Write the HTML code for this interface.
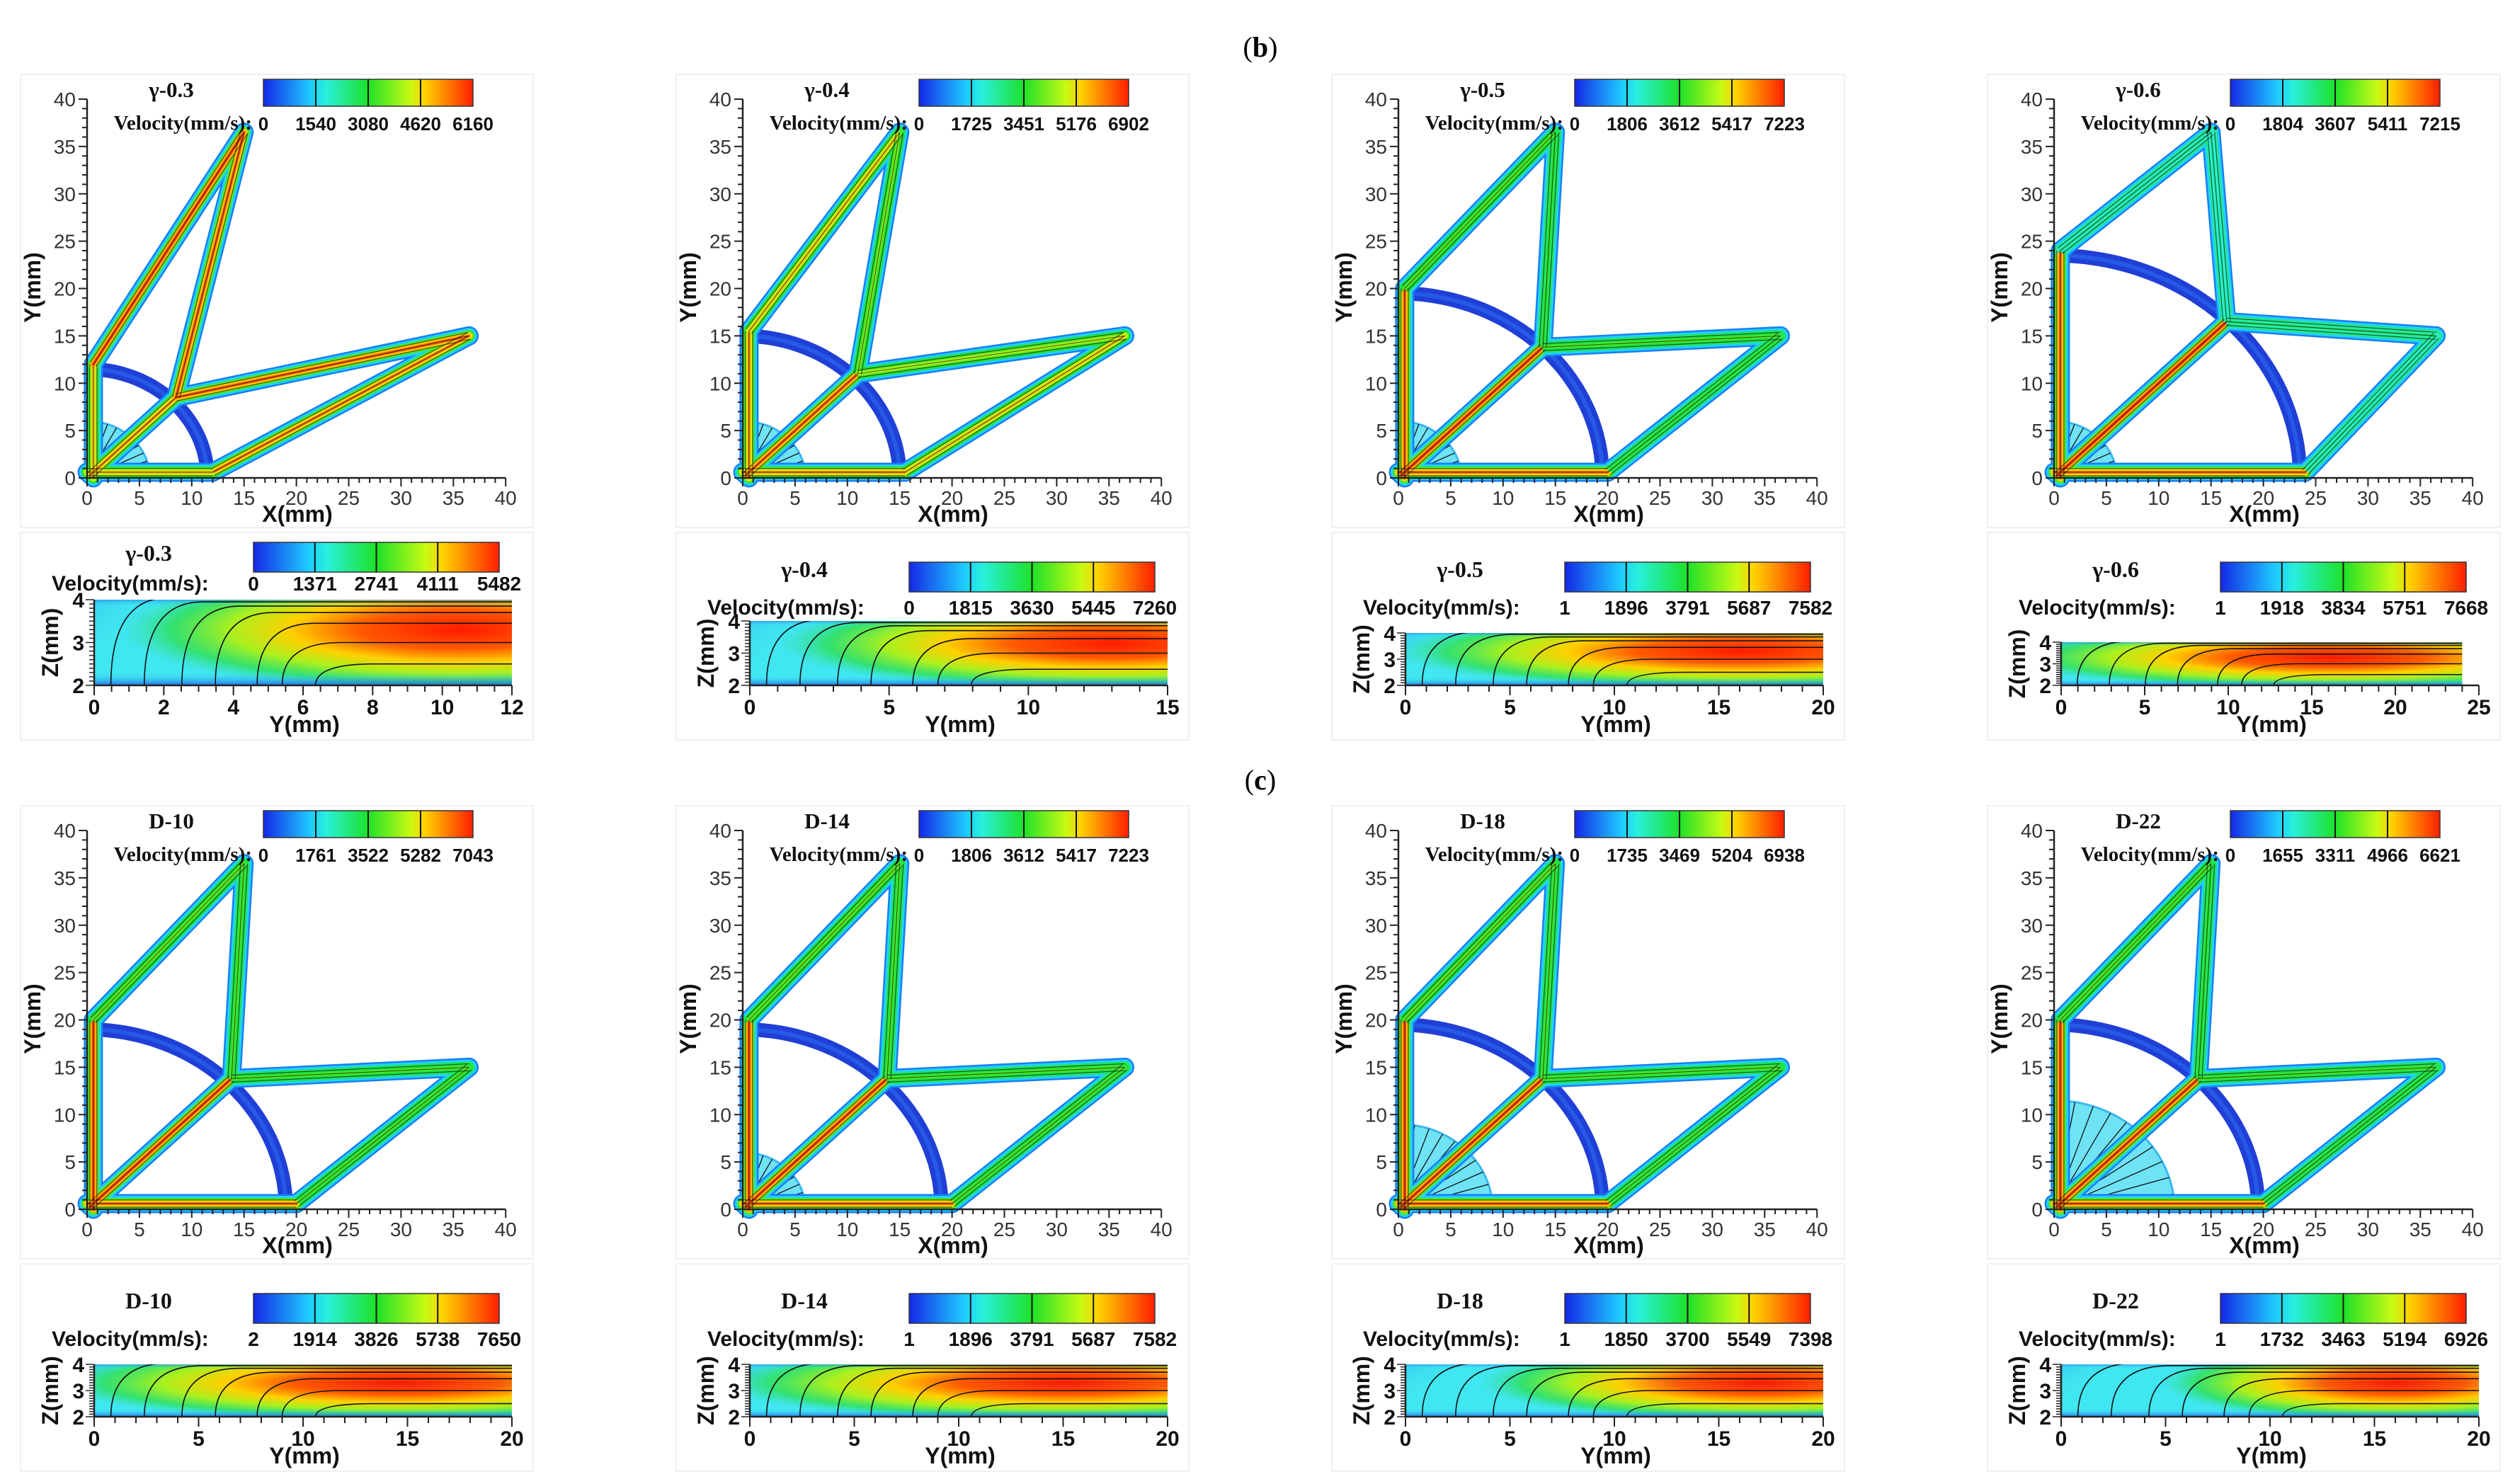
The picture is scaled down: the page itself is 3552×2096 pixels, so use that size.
<!DOCTYPE html>
<html><head><meta charset="utf-8"><style>
html,body{margin:0;padding:0;background:#fff;}
svg{display:block;}
</style></head><body>
<svg id="fig" width="3552" height="2096" viewBox="0 0 3552 2096" xmlns="http://www.w3.org/2000/svg">
<defs>
<linearGradient id="cbgrad" x1="0" x2="1" y1="0" y2="0">
<stop offset="0" stop-color="#1428e6"/><stop offset="0.22" stop-color="#1ec8ff"/><stop offset="0.3" stop-color="#28f0dc"/><stop offset="0.5" stop-color="#1ee128"/><stop offset="0.7" stop-color="#c8fa14"/><stop offset="0.77" stop-color="#ffd200"/><stop offset="1" stop-color="#ff1e00"/>
</linearGradient>
<radialGradient id="hot" cx="0.5" cy="0.5" r="0.5">
<stop offset="0" stop-color="#ff1a00"/><stop offset="0.3" stop-color="#ff5a00"/><stop offset="0.5" stop-color="#ffd000"/><stop offset="0.68" stop-color="#a8f020"/><stop offset="0.85" stop-color="#30e050" stop-opacity="0.8"/><stop offset="1" stop-color="#30e0a0" stop-opacity="0"/>
</radialGradient>
<radialGradient id="cold" cx="0" cy="0" r="1">
<stop offset="0" stop-color="#0a30e0"/><stop offset="0.5" stop-color="#1e90f5" stop-opacity="0.7"/><stop offset="1" stop-color="#40e6f0" stop-opacity="0"/>
</radialGradient>
<linearGradient id="bot" x1="0" x2="0" y1="0" y2="1">
<stop offset="0" stop-color="#1e6cf0" stop-opacity="0.5"/><stop offset="0.08" stop-color="#40e6f0" stop-opacity="0"/><stop offset="0.85" stop-color="#40e6f0" stop-opacity="0"/><stop offset="1" stop-color="#1e50e8" stop-opacity="0.8"/>
</linearGradient>
</defs>
<text x="1780" y="80" text-anchor="middle" font-family="Liberation Serif, serif" font-size="40">(<tspan font-weight="bold">b</tspan>)</text>
<text x="1780" y="1115" text-anchor="middle" font-family="Liberation Serif, serif" font-size="40">(<tspan font-weight="bold">c</tspan>)</text>
</svg>
<script>
const topTitles = ["γ-0.3","γ-0.4","γ-0.5","γ-0.6","D-10","D-14","D-18","D-22"];
const topCbVals = [[0,1540,3080,4620,6160],[0,1725,3451,5176,6902],[0,1806,3612,5417,7223],[0,1804,3607,5411,7215],[0,1761,3522,5282,7043],[0,1806,3612,5417,7223],[0,1735,3469,5204,6938],[0,1655,3311,4966,6621]];
const lowTitles = ["γ-0.3","γ-0.4","γ-0.5","γ-0.6","D-10","D-14","D-18","D-22"];
const lowCbVals = [[0,1371,2741,4111,5482],[0,1815,3630,5445,7260],[1,1896,3791,5687,7582],[1,1918,3834,5751,7668],[2,1914,3826,5738,7650],[1,1896,3791,5687,7582],[1,1850,3700,5549,7398],[1,1732,3463,5194,6926]];
const lowAxisMax = [12,15,20,25,20,20,20,20];
const lowTickStep = [2,5,5,5,5,5,5,5];
const lowChannelLen = [12,15,20,24,20,20,20,20];
const strutH = [12,15.5,20,24,20,20,20,20];
const nodeXY = [8.5,11,13.8,16.5,13.8,13.8,13.8,13.8];
const arcR = [11.5,15,19.5,23.5,19,19,19.5,19.5];
const inletR = [6,6,6,6,3,6,9,11.5];
// speeds (0-1) for struts: leftVert, upperOuter, tipToNode, diagonal, nodeToRight, rightToBottom, bottom
const strutSpeed = [
 [0.8,0.95,0.92,0.85,0.92,0.88,0.8],
 [0.85,0.78,0.62,0.92,0.68,0.78,0.85],
 [0.92,0.58,0.52,0.96,0.56,0.52,0.9],
 [0.92,0.38,0.36,0.97,0.42,0.38,0.9],
 [0.95,0.6,0.56,0.95,0.56,0.56,0.9],
 [0.95,0.6,0.56,0.95,0.56,0.56,0.9],
 [0.95,0.6,0.55,0.95,0.56,0.55,0.92],
 [0.95,0.58,0.52,0.95,0.55,0.52,0.92]
];
const hotCenter = [10.5,13,16,16,14.5,15,17,16];
const hotSpread = [6.5,8,11,13,11,11,9,7.5];

const NS="http://www.w3.org/2000/svg";
const svg=document.getElementById('fig');
function el(tag,attrs,parent){const e=document.createElementNS(NS,tag);for(const k in attrs)e.setAttribute(k,attrs[k]);(parent||svg).appendChild(e);return e;}
function txt(s,attrs,parent){const e=el('text',attrs,parent);e.textContent=s;return e;}
const cmStops=[[0,[20,40,230]],[0.22,[30,200,255]],[0.3,[40,240,220]],[0.5,[30,225,40]],[0.7,[200,250,20]],[0.77,[255,210,0]],[1,[255,30,0]]];
function cmap(t){t=Math.max(0,Math.min(1,t));for(let i=1;i<cmStops.length;i++){if(t<=cmStops[i][0]){const a=cmStops[i-1],b=cmStops[i];const f=(t-a[0])/(b[0]-a[0]);const c=a[1].map((v,j)=>Math.round(v+(b[1][j]-v)*f));return `rgb(${c[0]},${c[1]},${c[2]})`;}}return 'rgb(255,30,0)';}
const SANS="Liberation Sans, sans-serif", SERIF="Liberation Serif, serif";

function colorbar(g,x,y,w,h,vals,fs,ly){
  const cb=el('rect',{x:x,y:y,width:w,height:h,fill:'url(#cbgrad)',stroke:'#333','stroke-width':1.5},g);
  
  
  for(let i=1;i<4;i++) el('line',{x1:x+w*i/4,x2:x+w*i/4,y1:y,y2:y+h,stroke:'#111','stroke-width':2},g);
  vals.forEach((v,i)=>{const t=txt(String(v),{x:x+w*i/(vals.length-1),y:ly,'text-anchor':'middle','font-family':SANS,'font-weight':'bold','font-size':fs,fill:'#111'},g);
    
    });
}

for(let p=0;p<8;p++){
  const cx=(p%4)*926, ry=p<4?0:1033;
  const g=el('g',{});
  
  
  el('rect',{x:cx+29,y:ry+105,width:724,height:640,fill:'none',stroke:'#f0f0f0','stroke-width':2},g);
  const ox=cx+123, oy=ry+675, sx=14.78, sy=13.375;
  const X=v=>ox+v*sx, Y=v=>oy-v*sy;
  const h=strutH[p], n=nodeXY[p];
  let d='';for(let a=3;a<=87;a+=2){const r=arcR[p];d+=(a===3?'M':'L')+X(r*Math.cos(a*Math.PI/180)).toFixed(1)+','+Y(r*Math.sin(a*Math.PI/180)).toFixed(1);}
  const arc=el('path',{d:d,fill:'none',stroke:'#1f3fd6','stroke-width':20},g);
  
  
  el('path',{d:d,fill:'none',stroke:'#2a6af0','stroke-width':6,opacity:0.6},g);
  const R=inletR[p];
  let fd=`M${X(0)},${Y(0)}`;for(let a=0;a<=90;a+=3)fd+=`L${X(R*Math.cos(a*Math.PI/180)).toFixed(1)},${Y(R*Math.sin(a*Math.PI/180)).toFixed(1)}`;fd+='Z';
  const fan=el('path',{d:fd,fill:'#6fe2f4',stroke:'#3ab8f0','stroke-width':3},g);
  
  
  for(let a=8;a<90;a+=9){el('line',{x1:X(0),y1:Y(0),x2:X(R*Math.cos(a*Math.PI/180)),y2:Y(R*Math.sin(a*Math.PI/180)),stroke:'#111','stroke-width':1.3},g);}
  const P={L0:[0.6,0],LT:[0.6,h],T:[15,36.5],N:[n,n],O:[0.3,0.3],R:[36.5,15],BT:[h,0.6],B0:[0,0.6]};
  const struts=[['L0','LT'],['LT','T'],['T','N'],['O','N'],['N','R'],['R','BT'],['BT','B0']];
  const sp=strutSpeed[p];
  const layers=[[27,s=>cmap(0.12)],[22,s=>cmap(0.24)],[16,s=>cmap(0.28+s*0.3)],[10,s=>cmap(s*0.85)],[4,s=>cmap(s)]];
  layers.forEach(([w,f])=>{struts.forEach((s,i)=>{const a=P[s[0]],b=P[s[1]];
    const ln=el('line',{x1:X(a[0]),y1:Y(a[1]),x2:X(b[0]),y2:Y(b[1]),stroke:f(sp[i]),'stroke-width':w,'stroke-linecap':'round'},g);
    if(w===27){}
  });});
  struts.forEach((s)=>{const a=P[s[0]],b=P[s[1]];const dx=X(b[0])-X(a[0]),dy=Y(b[1])-Y(a[1]);const L=Math.hypot(dx,dy);const nx=-dy/L,ny=dx/L;
    [-5,0,5].forEach(o=>el('line',{x1:X(a[0])+nx*o,y1:Y(a[1])+ny*o,x2:X(b[0])+nx*o,y2:Y(b[1])+ny*o,stroke:'#111','stroke-width':1.1,opacity:0.7},g));});
  el('line',{x1:ox,y1:oy,x2:ox,y2:Y(40),stroke:'#222','stroke-width':2.5},g);
  el('line',{x1:ox,y1:oy,x2:X(40),y2:oy,stroke:'#222','stroke-width':2.5},g);
  for(let v=0;v<=40;v++){const maj=v%5===0;const L=maj?12:7;
    el('line',{x1:ox-L,x2:ox,y1:Y(v),y2:Y(v),stroke:'#222','stroke-width':2},g);
    el('line',{x1:X(v),x2:X(v),y1:oy,y2:oy+L,stroke:'#222','stroke-width':2},g);
    if(maj){const ty=txt(String(v),{x:ox-16,y:Y(v)+10,'text-anchor':'end','font-family':SANS,'font-size':28,fill:'#333'},g);
      
      
      const tx=txt(String(v),{x:X(v),y:ry+713,'text-anchor':'middle','font-family':SANS,'font-size':28,fill:'#333'},g);
      
      }
  }
  const xt=txt('X(mm)',{x:cx+420,y:ry+737,'text-anchor':'middle','font-family':SANS,'font-weight':'bold','font-size':32,fill:'#111'},g);
  
  
  const yt=txt('Y(mm)',{x:0,y:0,transform:`translate(${cx+57},${ry+406}) rotate(-90)`,'text-anchor':'middle','font-family':SANS,'font-weight':'bold','font-size':32,fill:'#111'},g);
  
  
  const tt=txt(topTitles[p],{x:cx+242,y:ry+137,'text-anchor':'middle','font-family':SERIF,'font-weight':'bold','font-size':31,fill:'#111'},g);
  
  
  const vl=txt('Velocity(mm/s):',{x:cx+356,y:ry+183,'text-anchor':'end','font-family':SERIF,'font-weight':'bold','font-size':29,fill:'#111'},g);
  
  
  colorbar(g,cx+372,ry+112,296,38,topCbVals[p],26,ry+184);

  const lg=el('g',{});
  
  
  el('rect',{x:cx+29,y:ry+752,width:724,height:293,fill:'none',stroke:'#f0f0f0','stroke-width':2},lg);
  const special=(p===0);
  const hPx=[121,91,74,61,74,74,74,74][p];
  const rb=ry+968, rt=rb-hPx, lx0=cx+133, lw=590;
  const amax=lowAxisMax[p];
  const LX=v=>lx0+v/amax*lw, LZ=z=>rb-(z-2)/2*hPx;
  const cw=LX(lowChannelLen[p])-lx0;
  const cp=el('clipPath',{id:'clip'+p},lg);
  el('rect',{x:lx0,y:rt,width:cw,height:hPx},cp);
  const hg=el('g',{'clip-path':`url(#clip${p})`},lg);
  const hm=el('rect',{x:lx0,y:rt,width:cw,height:hPx,fill:'#40e6f0'},hg);
  
  
  el('ellipse',{cx:lx0,cy:rt,rx:cw*0.22,ry:hPx*0.9,fill:'url(#cold)'},hg);
  el('ellipse',{cx:LX(hotCenter[p]),cy:LZ(3.3),rx:(hotSpread[p]*1.5)/amax*lw,ry:hPx*0.75,fill:'url(#hot)'},hg);
  el('rect',{x:lx0,y:rt,width:cw,height:hPx,fill:'url(#bot)'},hg);
  const lvls=[4.05,3.95,3.85,3.7,3.45,3.0,2.5];
  const st=[0.04,0.12,0.21,0.29,0.39,0.45,0.53];
  lvls.forEach((z,i)=>{const xs=st[i]*lowChannelLen[p];const k=0.14*lowChannelLen[p];
    const dd=`M${LX(xs)},${LZ(2)} Q${LX(xs)},${LZ(z)} ${LX(xs+k)},${LZ(z)} L${LX(lowChannelLen[p])},${LZ(z)}`;
    const sl=el('path',{d:dd,fill:'none',stroke:'#111','stroke-width':1.6},hg);
    
    });
  el('line',{x1:lx0,y1:rb,x2:lx0,y2:LZ(4),stroke:'#222','stroke-width':2.5},lg);
  el('line',{x1:lx0,y1:rb,x2:LX(amax),y2:rb,stroke:'#222','stroke-width':2.5},lg);
  const minor=lowTickStep[p]===2?0.5:1;
  for(let v=0;v<=amax+1e-6;v+=minor){const maj=Math.abs(v/lowTickStep[p]-Math.round(v/lowTickStep[p]))<1e-6;
    el('line',{x1:LX(v),x2:LX(v),y1:rb,y2:rb+(maj?14:9),stroke:'#222','stroke-width':2},lg);
    if(maj){const t=txt(String(v),{x:LX(v),y:ry+1009,'text-anchor':'middle','font-family':SANS,'font-weight':'bold','font-size':30,fill:'#111'},lg);
      
      }}
  for(let z=2;z<=4.001;z+=0.1){const maj=Math.abs(z-Math.round(z))<1e-6;el('line',{x1:lx0-(maj?12:7),x2:lx0,y1:LZ(z),y2:LZ(z),stroke:'#222','stroke-width':1.5},lg);
    if(maj){const t=txt(String(Math.round(z)),{x:lx0-14,y:LZ(z)+11,'text-anchor':'end','font-family':SANS,'font-weight':'bold','font-size':30,fill:'#111'},lg);
      
      }}
  const yx=txt('Y(mm)',{x:cx+430,y:ry+1034,'text-anchor':'middle','font-family':SANS,'font-weight':'bold','font-size':32,fill:'#111'},lg);
  
  
  const zt=txt('Z(mm)',{x:0,y:0,transform:`translate(${cx+82},${(rt+rb)/2}) rotate(-90)`,'text-anchor':'middle','font-family':SANS,'font-weight':'bold','font-size':32,fill:'#111'},lg);
  
  
  const tY=special?782:805, cbY=special?766:794, vY=special?823:857;
  const lt=txt(lowTitles[p],{x:cx+210,y:ry+tY+10,'text-anchor':'middle','font-family':SERIF,'font-weight':'bold','font-size':32,fill:'#111'},lg);
  
  
  const lv=txt('Velocity(mm/s):',{x:cx+73,y:ry+vY+11,'font-family':SANS,'font-weight':'bold','font-size':30,fill:'#111'},lg);
  
  
  colorbar(lg,cx+358,ry+cbY,347,42,lowCbVals[p],28,ry+vY+11);
}
</script>
</body></html>
